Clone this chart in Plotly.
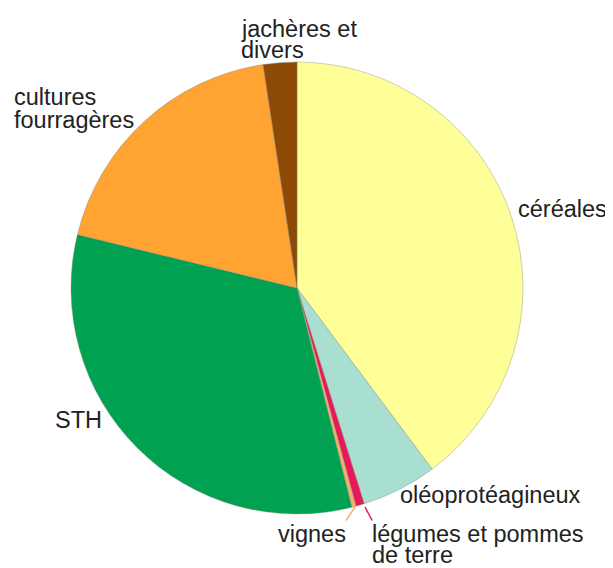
import plotly.graph_objects as go

# page body adds an 8px margin; figure drawn in the remaining area
OFF = 8
W, H = 613 - OFF, 568 - OFF

categories = ["céréales", "oléoprotéagineux", "légumes et pommes de terre", "vignes",
              "STH", "cultures fourragères", "jachères et divers"]
values = [39.8, 5.4, 0.6, 0.3, 32.7, 18.8, 2.4]
colors = ["#FFFF99", "#A8DFD1", "#E8185A", "#F2B16A", "#00A151", "#FFA333", "#8C4A06"]

# label lines: (text, left x px, baseline y px) in window pixels
label_lines = [
    ("jachères et", 240, 37),
    ("divers", 240, 58),
    ("cultures", 13, 105),
    ("fourragères", 13, 128),
    ("céréales", 517, 217),
    ("STH", 54, 428),
    ("oléoprotéagineux", 399, 503),
    ("vignes", 277, 542),
    ("légumes et pommes", 371, 542),
    ("de terre", 371, 563),
]
FS = 23.5

cx, cy, r = 297 - OFF, 288 - OFF, 226

fig = go.Figure(go.Pie(
    labels=categories,
    values=values,
    marker=dict(colors=colors, line=dict(color="rgba(140,140,120,0.6)", width=0.7)),
    sort=False,
    direction="clockwise",
    rotation=0,
    textinfo="none",
    hoverinfo="label+percent",
    showlegend=False,
    domain=dict(x=[(cx - r) / W, (cx + r) / W], y=[(H - cy - r) / H, (H - cy + r) / H]),
))

annotations = []
for text, x, yb in label_lines:
    x -= OFF
    yb -= OFF
    ymid = yb - 0.33 * FS
    annotations.append(dict(
        text=text, x=x / W, y=1 - ymid / H, xref="paper", yref="paper",
        xanchor="left", yanchor="middle", showarrow=False,
        font=dict(family="Liberation Sans, Arial", size=FS, color="#222222"),
        borderpad=0,
    ))

# leader lines for the thin slices
leaders = [((355, 507), (345, 522), "#F2B16A"), ((365, 507), (373, 522), "#E8185A")]
for (x0, y0), (x1, y1), col in leaders:
    annotations.append(dict(
        x=(x0 - OFF) / W, y=1 - (y0 - OFF) / H, xref="paper", yref="paper",
        ax=x1 - x0, ay=y1 - y0, axref="pixel", ayref="pixel",
        showarrow=True, arrowhead=0, arrowwidth=1.5, arrowcolor=col, text="",
    ))

fig.update_layout(
    width=W, height=H,
    margin=dict(l=0, r=0, t=0, b=0),
    paper_bgcolor="white", plot_bgcolor="white",
    annotations=annotations,
)

fig.write_html("out.html")
